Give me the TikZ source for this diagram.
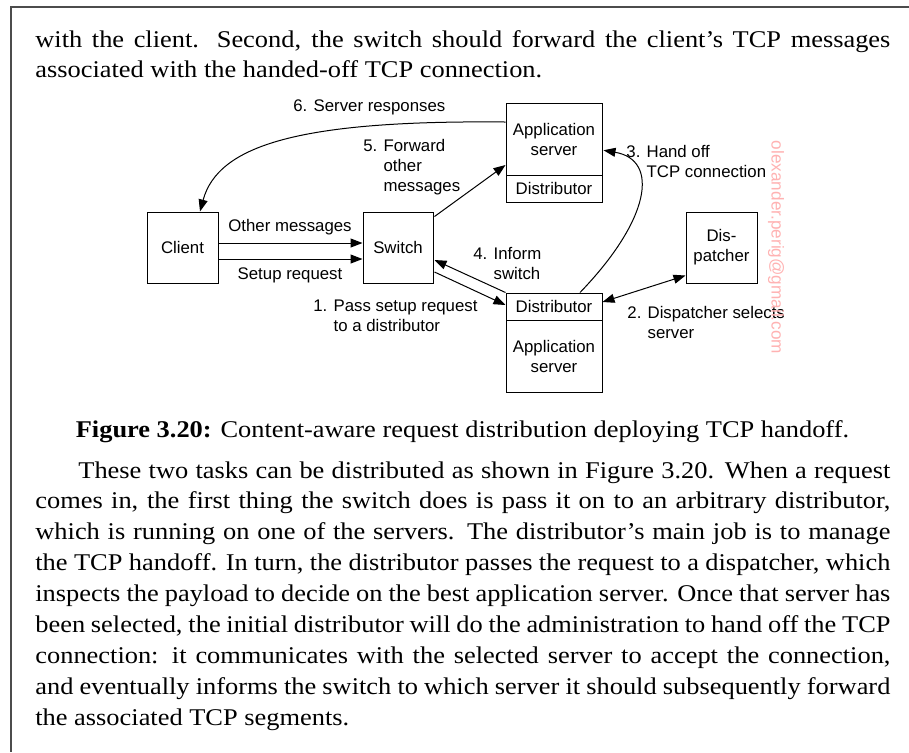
\documentclass[tikz,border=0pt]{standalone}
\usepackage{fontspec}
\setmainfont{Liberation Serif}[FakeStretch=1.1]
\setsansfont{Liberation Sans}
\usetikzlibrary{calc,arrows.meta}

\newcommand\diagfont{\sffamily\fontsize{8.4}{10}\selectfont}
\newcommand\bodyfont{\rmfamily\fontsize{12}{15.45}\selectfont}

\begin{document}
\begin{tikzpicture}[x=0.5pt, y=-0.5pt,
  box/.style={draw, line width=0.5pt, inner sep=0pt, align=center, font=\diagfont},
  lbl/.style={inner sep=0pt, align=left, font=\diagfont},
  arr/.style={line width=0.5pt, -{Triangle[length=6pt,width=4.5pt]}},
  body/.style={inner sep=0pt, text width=427.5pt, align=justify, font=\bodyfont}]
  \useasboundingbox (0,0) rectangle (909,752);

  % page frame (top and left only)
  \coordinate (frametop) at (909,7);
  \coordinate (framecorner) at (11,7);
  \coordinate (framebottom) at (11,752);
  \draw[black!70, line width=0.75pt] (frametop) -- (framecorner) -- (framebottom);

  % text before the figure
  \node[body, anchor=base west] (para1) at (35,47)
    {with the client. Second, the switch should forward the client's TCP messages\linebreak
     associated with the handed-off TCP connection.};

  % boxes
  \node[box, minimum width=35.5pt, minimum height=35.5pt] (client) at (182.5,247.5) {Client};
  \node[box, minimum width=35pt, minimum height=35.5pt] (switch) at (398,247.5) {Switch};
  \node[box, minimum width=48pt, minimum height=36.25pt] (appsrv) at (554,139.25) {Application\\server};
  \node[box, minimum width=48pt, minimum height=13.25pt] (appdist) at (554,188.75) {Distributor};
  \node[box, minimum width=35.5pt, minimum height=35.5pt] (dispatcher) at (721.5,247.5) {Dis-\\patcher};
  \node[box, minimum width=48pt, minimum height=13.5pt] (distrib) at (554,306.5) {Distributor};
  \node[box, minimum width=48pt, minimum height=36pt] (distsrv) at (554,356) {Application\\server};

  % connectors
  \draw[arr] ($(client.east)+(0,-4.5)$) -- ($(switch.west)+(0,-4.5)$);
  \draw[arr] ($(client.east)+(0,11.5)$) -- ($(switch.west)+(0,11.5)$);
  \draw[arr] ($(switch.north east)+(1,5)$) -- ($(appsrv.west)+(0,25.75)$);
  \draw[arr] ($(appsrv.west)+(0,-17.25)$) .. controls (300,120) and (218,145) .. ($(client.north)+(17.5,0)$);
  \draw[arr] (distrib.north west) -- ($(switch.east)+(1,12.5)$);
  \draw[arr] ($(switch.east)+(1,24.5)$) -- ($(distrib.west)+(0,-1.5)$);
  \draw[line width=0.5pt, {Triangle[length=6pt,width=4.5pt]}-{Triangle[length=6pt,width=4.5pt]}]
    ($(distrib.east)+(0,-4.5)$) -- ($(dispatcher.south west)+(0,-8)$);
  \draw[arr] ($(distrib.north)+(26,0)$) .. controls (650,220) and (660,160) .. ($(appsrv.east)+(1,11)$);

  % labels
  \node[lbl, anchor=west] (lblsix) at (293,107) {6. Server responses};
  \node[lbl, anchor=west] (lblfive) at (363,167.5) {5. Forward\\\phantom{5. }other\\\phantom{5. }messages};
  \node[lbl] (lblother) at (290,227) {Other messages};
  \node[lbl] (lblsetup) at (290,275) {Setup request};
  \node[lbl, anchor=west] (lblfour) at (473,263.5) {4. Inform\\\phantom{4. }switch};
  \node[lbl, anchor=west] (lblone) at (313,316) {1. Pass setup request\\\phantom{1. }to a distributor};
  \node[lbl, anchor=west] (lbltwo) at (627,322.5) {2. Dispatcher selects\\\phantom{2. }server};
  \node[lbl, anchor=west] (lblthree) at (626,161.5) {3. Hand off\\\phantom{3. }TCP connection};

  % watermark
  \node[inner sep=0pt, font=\sffamily\fontsize{8.6}{10}\selectfont, text=red!30, rotate=-90] (mark) at (776,247.5) {olexander.perig@gmail.com};

  % caption and text after the figure
  \node[inner sep=0pt, font=\bodyfont, anchor=base] (caption) at (462.5,437)
    {\textbf{Figure 3.20:} Content-aware request distribution deploying TCP handoff.};
  \node[body, anchor=base west] (para2) at (35,478)
    {\noindent\hspace*{21.5pt}These two tasks can be distributed as shown in Figure 3.20. When a request\linebreak
     comes in, the first thing the switch does is pass it on to an arbitrary distributor,\linebreak
     which is running on one of the servers. The distributor's main job is to manage\linebreak
     the TCP handoff. In turn, the distributor passes the request to a dispatcher, which\linebreak
     inspects the payload to decide on the best application server. Once that server has\linebreak
     been selected, the initial distributor will do the administration to hand off the TCP\linebreak
     connection: it communicates with the selected server to accept the connection,\linebreak
     and eventually informs the switch to which server it should subsequently forward\linebreak
     the associated TCP segments.};
\end{tikzpicture}
\end{document}
